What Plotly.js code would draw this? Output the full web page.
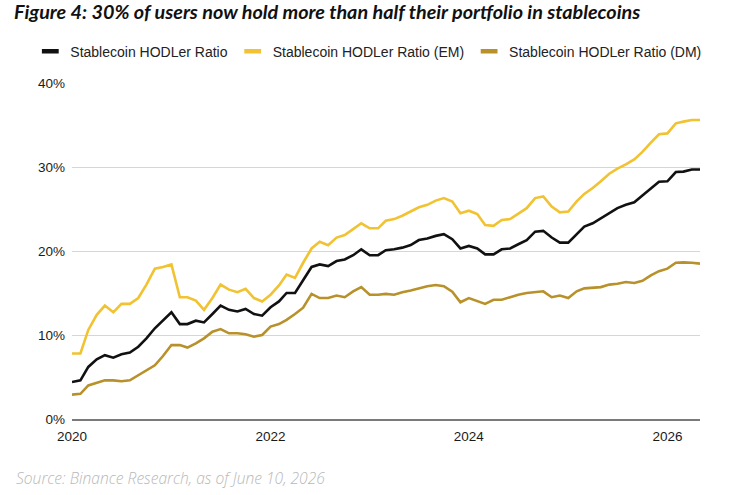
<!DOCTYPE html>
<html>
<head>
<meta charset="utf-8">
<script src="https://cdn.plot.ly/plotly-3.0.1.min.js"></script>
<style>
  html, body { margin: 0; padding: 0; background: #ffffff; }
  #chart { width: 750px; height: 495px; }
</style>
</head>
<body>
<div id="chart"></div>
<script>
// Monthly observations, Jan 2020 .. May 2026
const startYear = 2020;
const monthCount = 77;

const seriesNames = [
  "Stablecoin HODLer Ratio",
  "Stablecoin HODLer Ratio (EM)",
  "Stablecoin HODLer Ratio (DM)"
];

// values in percent
const hodlerTotal = [
  4.4, 4.6, 6.2, 7.1, 7.6, 7.3, 7.7, 7.9, 8.6, 9.6,
  10.8, 11.7, 12.7, 11.3, 11.3, 11.7, 11.5, 12.5, 13.5, 13.0,
  12.8, 13.1, 12.5, 12.3, 13.3, 14.0, 15.0, 15.0, 16.5, 18.1,
  18.4, 18.2, 18.8, 19.0, 19.5, 20.2, 19.5, 19.5, 20.1, 20.2,
  20.4, 20.7, 21.3, 21.5, 21.8, 22.0, 21.4, 20.3, 20.6, 20.3,
  19.6, 19.6, 20.2, 20.3, 20.8, 21.3, 22.3, 22.4, 21.6, 21.0,
  21.0, 22.0, 22.9, 23.3, 23.9, 24.6, 25.1, 25.5, 25.8, 26.6,
  27.4, 28.25, 28.3, 29.4, 29.45, 29.7, 29.7
];

const hodlerEM = [
  7.8, 7.8, 10.6, 12.4, 13.5, 12.7, 13.7, 13.7, 14.4, 16.0,
  17.9, 18.1, 18.4, 14.5, 14.5, 14.1, 13.0, 14.4, 16.0, 15.4,
  15.1, 15.5, 14.4, 14.0, 14.8, 15.9, 17.2, 16.8, 18.6, 20.3,
  21.1, 20.7, 21.6, 21.9, 22.6, 23.3, 22.7, 22.7, 23.6, 23.8,
  24.2, 24.7, 25.2, 25.5, 26.0, 26.3, 25.9, 24.5, 24.8, 24.4,
  23.1, 23.0, 23.7, 23.8, 24.4, 25.1, 26.3, 26.5, 25.3, 24.6,
  24.7, 25.9, 26.8, 27.5, 28.3, 29.2, 29.8, 30.3, 30.9, 31.8,
  32.9, 33.9, 34.0, 35.2, 35.4, 35.6, 35.6
];

const hodlerDM = [
  2.9, 3.0, 4.0, 4.3, 4.6, 4.6, 4.5, 4.6, 5.2, 5.7,
  6.4, 7.5, 8.8, 8.8, 8.5, 9.0, 9.6, 10.4, 10.7, 10.2,
  10.2, 10.1, 9.8, 10.0, 11.0, 11.3, 11.8, 12.5, 13.25, 14.9,
  14.4, 14.4, 14.7, 14.5, 15.2, 15.7, 14.8, 14.8, 14.9, 14.8,
  15.1, 15.3, 15.55, 15.8, 15.95, 15.8, 15.15, 13.9, 14.4, 14.0,
  13.7, 14.2, 14.2, 14.5, 14.8, 15.0, 15.1, 15.2, 14.5, 14.7,
  14.4, 15.2, 15.55, 15.6, 15.7, 16.0, 16.1, 16.3, 16.2, 16.45,
  17.1, 17.6, 17.9, 18.6, 18.65, 18.6, 18.5
];

const yTickVals = [0, 10, 20, 30, 40];
const yTickText = ["0%", "10%", "20%", "30%", "40%"];
const xTickVals = ["2020-01-01", "2022-01-01", "2024-01-01", "2026-01-01"];
const xTickText = ["2020", "2022", "2024", "2026"];

const months = [];
for (let i = 0; i < monthCount; i++) {
  const y = startYear + Math.floor(i / 12);
  const m = (i % 12) + 1;
  months.push(y + "-" + String(m).padStart(2, "0") + "-01");
}

const colors = ["#111111", "#F1C232", "#B8912A"];
const values = [hodlerTotal, hodlerEM, hodlerDM];
const bodyFont = "Liberation Sans";

const traces = [];
values.forEach((v, k) => {
  traces.push({
    x: months, y: v.map(d => d / 100), type: "scatter", mode: "lines",
    name: seriesNames[k], showlegend: false, hoverinfo: "skip",
    line: { color: colors[k], width: 2.6 }
  });
});
// legend entries (short bar swatches)
seriesNames.forEach((n, k) => {
  traces.push({
    x: [null], y: [null], type: "scatter", mode: "markers", name: n,
    marker: { symbol: "line-ew-open", size: 12, color: colors[k],
              line: { color: colors[k], width: 4.5 } }
  });
});

const layout = {
  width: 750, height: 495,
  paper_bgcolor: "#ffffff", plot_bgcolor: "#ffffff",
  margin: { l: 72, r: 50, t: 83, b: 76 },
  font: { family: bodyFont, color: "#222222", size: 13 },
  title: {
    text: "<b><i>Figure 4: 30% of users now hold more than half their portfolio in stablecoins</i></b>",
    x: 14 / 750, xanchor: "left", xref: "container",
    y: 1 - 12 / 495, yanchor: "middle", yref: "container",
    font: { family: "Lato", size: 19.8, color: "#111111" }
  },
  showlegend: true,
  legend: {
    orientation: "h", x: -0.0664, xanchor: "left", y: 1.093, yanchor: "middle",
    font: { family: bodyFont, size: 14, color: "#222222" },
    itemwidth: 30, traceorder: "normal", bgcolor: "rgba(0,0,0,0)"
  },
  xaxis: {
    type: "date",
    range: ["2020-01-01", "2026-05-01"],
    tickvals: xTickVals, ticktext: xTickText,
    showgrid: false, zeroline: false,
    showline: true, linecolor: "#7a7a7a", linewidth: 1.6,
    ticks: "", ticklen: 0, ticklabelstandoff: 4,
    tickfont: { family: bodyFont, size: 13.5, color: "#1a1a1a" }
  },
  yaxis: {
    range: [0, 0.4],
    tickvals: yTickVals.map(v => v / 100), ticktext: yTickText,
    showgrid: true, gridcolor: "#d6d6d6", gridwidth: 1,
    zeroline: false, showline: false, ticks: "", ticklabelstandoff: 6,
    tickfont: { family: bodyFont, size: 13.5, color: "#1a1a1a" }
  },
  annotations: [{
    text: "<i>Source: Binance Research, as of June 10, 2026</i>",
    xref: "paper", yref: "paper",
    x: (14 - 72) / 628, y: (419.3 - 478) / 336,
    xanchor: "left", yanchor: "middle", showarrow: false,
    font: { family: "Open Sans", size: 15.6, weight: 300, color: "#b8b8b8" }
  }]
};

Plotly.newPlot("chart", traces, layout, { displayModeBar: false, staticPlot: true });
</script>
</body>
</html>
